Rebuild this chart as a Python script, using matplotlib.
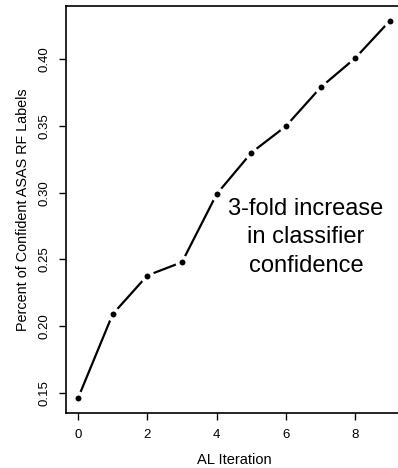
import numpy as np
import matplotlib.pyplot as plt

plt.rcParams['font.family'] = ['Liberation Sans', 'DejaVu Sans']

# active learning iterations and fraction of confident RF labels
iteracion = [0, 1, 2, 3, 4, 5, 6, 7, 8, 9]
porcentaje = [0.146, 0.209, 0.238, 0.248, 0.299, 0.330, 0.350, 0.379, 0.401, 0.429]

xticks = [0, 2, 4, 6, 8]
yticks = [0.15, 0.20, 0.25, 0.30, 0.35, 0.40]

fig = plt.figure(figsize=(3.98, 4.68), dpi=100)
ax = fig.add_axes([0.1646, 0.1167, 0.8467, 0.8715])

# type="b" style: dots with a gap in the line around each one
ax.plot(iteracion, porcentaje, '-', color='black', lw=1.6,
        marker='o', markersize=7.2, markerfacecolor='black',
        markeredgecolor='white', markeredgewidth=2.9)

# R-style 4% padding
xr = max(iteracion) - min(iteracion)
yr = max(porcentaje) - min(porcentaje)
ax.set_xlim(min(iteracion) - 0.04 * xr, max(iteracion) + 0.04 * xr)
ax.set_ylim(min(porcentaje) - 0.04 * yr, max(porcentaje) + 0.04 * yr)

ax.set_xticks(xticks)
ax.set_xticklabels([str(t) for t in xticks])
ax.set_yticks(yticks)
ax.set_yticklabels(['%.2f' % t for t in yticks], rotation=90, va='center')
ax.tick_params(direction='out', length=5, width=1, labelsize=9.5, pad=6)

for s in ax.spines.values():
    s.set_linewidth(1.2)

ax.set_xlabel('AL Iteration', fontsize=10.5, labelpad=9)
ax.set_ylabel('Percent of Confident ASAS RF Labels', fontsize=10.4, labelpad=6)

ax.text(6.58, 0.2665, '3-fold increase\nin classifier\nconfidence',
        ha='center', va='center', fontsize=17, linespacing=1.36)

fig.savefig('out.png', dpi=100)
